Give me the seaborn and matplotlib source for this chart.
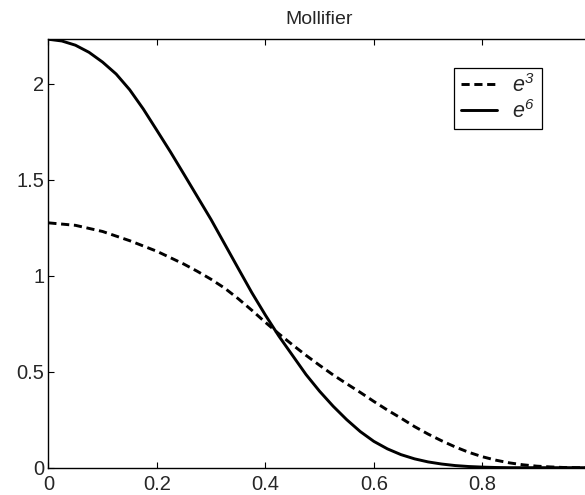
import matplotlib
matplotlib.use("Agg")
import matplotlib.pyplot as plt
import seaborn as sns
import pandas as pd

# values
x_e3 = [0.00, 0.05, 0.10, 0.15, 0.20, 0.25, 0.275, 0.30, 0.325, 0.35, 0.375,
        0.40, 0.425, 0.45, 0.475, 0.50, 0.525, 0.55, 0.575, 0.60, 0.625, 0.65,
        0.675, 0.70, 0.725, 0.75, 0.775, 0.80, 0.825, 0.85, 0.875, 0.90,
        0.925, 0.95, 0.975, 1.00]
y_e3 = [1.275, 1.262, 1.230, 1.182, 1.127, 1.060, 1.022, 0.981, 0.935, 0.880,
        0.820, 0.757, 0.697, 0.640, 0.585, 0.533, 0.483, 0.437, 0.392, 0.345,
        0.300, 0.258, 0.214, 0.175, 0.140, 0.108, 0.080, 0.057, 0.039, 0.025,
        0.015, 0.008, 0.004, 0.001, 0.0, 0.0]

x_e6 = [0.000, 0.025, 0.05, 0.075, 0.10, 0.125, 0.15, 0.175, 0.20, 0.225,
        0.25, 0.275, 0.30, 0.325, 0.35, 0.375, 0.40, 0.425, 0.45, 0.475,
        0.50, 0.525, 0.55, 0.575, 0.60, 0.625, 0.65, 0.675, 0.70, 0.725,
        0.75, 0.775, 0.80, 0.825, 0.85, 1.00]
y_e6 = [2.231, 2.222, 2.200, 2.163, 2.112, 2.050, 1.968, 1.868, 1.757, 1.645,
        1.528, 1.410, 1.292, 1.165, 1.038, 0.912, 0.795, 0.685, 0.585, 0.485,
        0.398, 0.320, 0.250, 0.188, 0.137, 0.098, 0.068, 0.046, 0.030, 0.019,
        0.011, 0.006, 0.003, 0.001, 0.0, 0.0]

x_ticks = [0, 0.2, 0.4, 0.6, 0.8]
y_ticks = [0, 0.5, 1, 1.5, 2]
x_labels = ["0", "0.2", "0.4", "0.6", "0.8"]
y_labels = ["0", "0.5", "1", "1.5", "2"]

sns.set_style("white")
plt.rcParams["font.family"] = ["Liberation Sans", "DejaVu Sans"]
plt.rcParams["mathtext.fontset"] = "custom"
plt.rcParams["mathtext.it"] = "Liberation Sans:italic"
plt.rcParams["mathtext.rm"] = "Liberation Sans:italic"

fig = plt.figure(figsize=(5.85, 4.95), dpi=100)
ax = fig.add_axes([0.0826, 0.0552, 0.9274, 0.8655])

df3 = pd.DataFrame({"x": x_e3, "y": y_e3})
df6 = pd.DataFrame({"x": x_e6, "y": y_e6})
sns.lineplot(data=df3, x="x", y="y", ax=ax, color="black", lw=2.1,
             linestyle=(0, (2.8, 1.6)), label="$e^3$", sort=False)
sns.lineplot(data=df6, x="x", y="y", ax=ax, color="black", lw=2.1,
             label="$e^6$", sort=False)

ax.set_xlim(0, 1)
ax.set_ylim(0, 2.231)
ax.set_xticks(x_ticks)
ax.set_xticklabels(x_labels)
ax.set_yticks(y_ticks)
ax.set_yticklabels(y_labels)
ax.set_xlabel("")
ax.set_ylabel("")
ax.tick_params(direction="in", length=4, width=0.8, labelsize=14.5,
               top=True, bottom=True, left=True, right=False, color="black")
ax.tick_params(axis="x", pad=5)
ax.tick_params(axis="y", pad=3)
for s in ax.spines.values():
    s.set_color("black")
    s.set_linewidth(1.0)

ax.set_title("Mollifier", fontsize=14, pad=11)

leg = ax.legend(loc="upper left", bbox_to_anchor=(0.748, 0.934),
                borderaxespad=0, fontsize=15.5, handlelength=1.7,
                fancybox=False, edgecolor="black", framealpha=1,
                borderpad=0.3, labelspacing=0.15, handletextpad=0.7)
leg.get_frame().set_linewidth(0.9)

fig.savefig("out.png", dpi=100)
